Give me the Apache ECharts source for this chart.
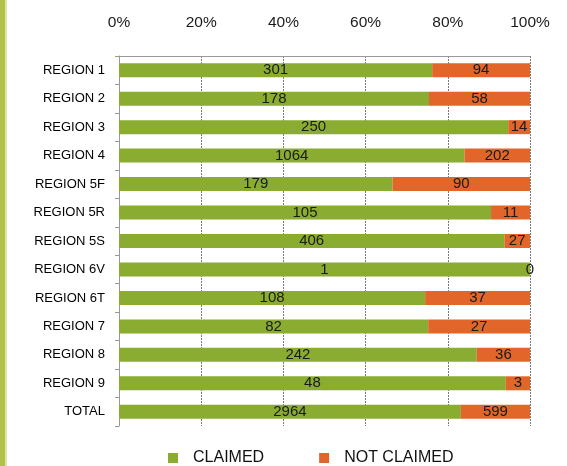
<!DOCTYPE html>
<html>
<head>
<meta charset="utf-8">
<script src="https://cdn.jsdelivr.net/npm/echarts@6/dist/echarts.min.js"></script>
<style>html,body{margin:0;padding:0;background:#fff;}#c{width:567px;height:466px;}</style>
</head>
<body>
<div id="c"></div>
<script>
const categories = ['REGION 1','REGION 2','REGION 3','REGION 4','REGION 5F','REGION 5R','REGION 5S','REGION 6V','REGION 6T','REGION 7','REGION 8','REGION 9','TOTAL'];
const claimed = [301,178,250,1064,179,105,406,1,108,82,242,48,2964];
const notClaimed = [94,58,14,202,90,11,27,0,37,27,36,3,599];
const tickLabels = ['0%','20%','40%','60%','80%','100%'];

const totals = claimed.map((v,i)=>v+notClaimed[i]);
const pctClaimed = claimed.map((v,i)=>v/totals[i]*100);
const pctNot = notClaimed.map((v,i)=>v/totals[i]*100);

const chart = echarts.init(document.getElementById('c'));
const font = 'Liberation Sans, Arial, sans-serif';
chart.setOption({
  animation:false,
  backgroundColor:'#fff',
  graphic:[
    {type:'rect',left:0,top:0,shape:{width:5,height:466},style:{fill:'#b3c04a'}},
    {type:'rect',left:5,top:0,shape:{width:2,height:466},style:{fill:'#dfe4b0'}}
  ],
  grid:{left:119,right:37,top:56,bottom:40},
  xAxis:{
    type:'value',position:'top',min:0,max:100,interval:20,
    axisLine:{show:true,lineStyle:{color:'#999',width:1}},
    axisTick:{show:false},
    axisLabel:{formatter:(v)=>tickLabels[Math.round(v/20)],color:'#1a1a1a',fontSize:15.5,fontFamily:font,margin:25},
    splitLine:{show:true,lineStyle:{color:'#7a7a7a',width:1,type:[2,1]}}
  },
  yAxis:{
    type:'category',inverse:true,data:categories,
    axisLine:{show:true,lineStyle:{color:'#999'}},
    axisTick:{show:true,length:4,lineStyle:{color:'#999'}},
    axisLabel:{color:'#000',fontSize:13,fontFamily:font,margin:14}
  },
  legend:{
    top:445,left:163,itemWidth:10,itemHeight:10,itemGap:55,icon:'rect',
    textStyle:{color:'#111',fontSize:16,fontFamily:font,padding:[0,0,0,10]},
    data:['CLAIMED','NOT CLAIMED']
  },
  series:[
    {name:'CLAIMED',type:'bar',stack:'s',barWidth:14,data:pctClaimed,
     itemStyle:{color:'#8aac30'},
     label:{show:true,position:'inside',color:'#1a1a1a',fontSize:15,fontFamily:font,
       formatter:(p)=>String(claimed[p.dataIndex])}},
    {name:'NOT CLAIMED',type:'bar',stack:'s',barWidth:14,data:pctNot,
     itemStyle:{color:'#e2662a'},
     label:{show:true,position:'inside',color:'#1a1a1a',fontSize:15,fontFamily:font,
       formatter:(p)=>String(notClaimed[p.dataIndex])}}
  ]
});
</script>
</body>
</html>
